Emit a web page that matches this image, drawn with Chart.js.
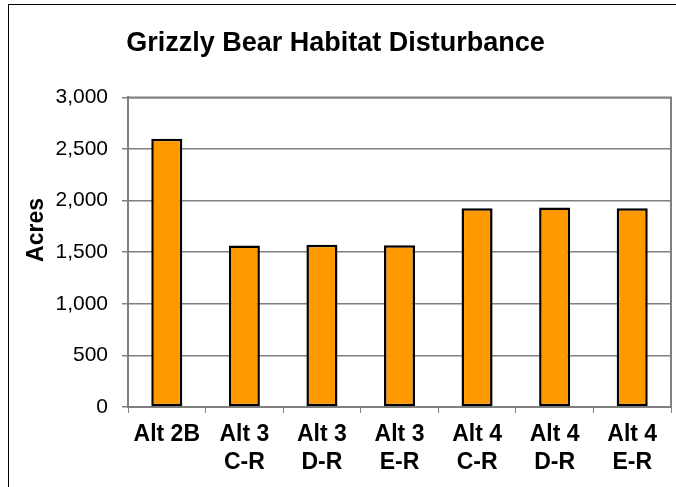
<!DOCTYPE html>
<html>
<head>
<meta charset="utf-8">
<script src="https://cdn.jsdelivr.net/npm/chart.js@4"></script>
<style>
  html, body { margin: 0; padding: 0; background: #fff; overflow: hidden; }
  #frame { position: absolute; left: 8px; top: 4px; width: 700px; height: 520px; border: 1px solid #000; box-sizing: border-box; }
  #wrap { position: absolute; left: 0; top: 0; width: 676px; height: 487px; }
</style>
</head>
<body>
<div id="frame"></div>
<div id="wrap"><canvas id="chart" width="676" height="487"></canvas></div>
<script>
// data
const categories = [['Alt 2B'], ['Alt 3', 'C-R'], ['Alt 3', 'D-R'], ['Alt 3', 'E-R'], ['Alt 4', 'C-R'], ['Alt 4', 'D-R'], ['Alt 4', 'E-R']];
const acres = [2600, 1565, 1572, 1567, 1925, 1932, 1926];
const yTicks = [0, 500, 1000, 1500, 2000, 2500, 3000];

const FONT = "'Liberation Sans', Arial, sans-serif";

// gray border on right/top of the plot area, and the rotated y title
const plotExtras = {
  id: 'plotExtras',
  afterDraw(chart) {
    const { ctx, chartArea: a } = chart;
    ctx.save();
    ctx.strokeStyle = '#808080';
    ctx.lineWidth = 2;
    ctx.beginPath();
    ctx.moveTo(a.left, a.top);
    ctx.lineTo(a.right, a.top);
    ctx.lineTo(a.right, a.bottom);
    ctx.stroke();

    ctx.translate(37, 230);
    ctx.rotate(-Math.PI / 2);
    ctx.fillStyle = '#000';
    ctx.font = 'bold 23px ' + FONT;
    ctx.textAlign = 'center';
    ctx.textBaseline = 'middle';
    ctx.fillText('Acres', 0, 0);
    ctx.restore();
  }
};

new Chart(document.getElementById('chart'), {
  type: 'bar',
  data: {
    labels: categories,
    datasets: [{
      data: acres,
      backgroundColor: '#FF9900',
      borderColor: '#000',
      borderWidth: 2.5,
      borderSkipped: false,
      barPercentage: 0.4,
      categoryPercentage: 1
    }]
  },
  options: {
    responsive: false,
    animation: false,
    layout: { padding: { left: 0, right: 5, top: 0, bottom: 0 } },
    plugins: {
      legend: { display: false },
      tooltip: { enabled: false },
      title: {
        display: true,
        text: 'Grizzly Bear Habitat Disturbance',
        color: '#000',
        font: { family: FONT, size: 27, weight: 'bold', lineHeight: 1.2 },
        padding: { top: 27, bottom: 38 }
      }
    },
    scales: {
      x: {
        afterFit: s => { s.height = 80; },
        grid: { display: true, offset: true, drawOnChartArea: false, tickLength: 6, color: '#808080', tickColor: '#808080' },
        border: { display: true, color: '#808080', width: 2 },
        ticks: {
          color: '#000',
          padding: 8,
          maxRotation: 0,
          autoSkip: false,
          font: { family: FONT, size: 23, weight: 'bold', lineHeight: 1.22 }
        }
      },
      y: {
        min: 0,
        max: 3000,
        afterFit: s => { s.width = 128; },
        afterBuildTicks: s => { s.ticks = yTicks.map(v => ({ value: v })); },
        grid: { color: '#808080', tickColor: '#808080', tickLength: 6, lineWidth: 1.5 },
        border: { display: true, color: '#808080', width: 2 },
        ticks: {
          color: '#000',
          padding: 14,
          font: { family: FONT, size: 21 },
          callback: v => v.toLocaleString('en-US')
        }
      }
    }
  },
  plugins: [plotExtras]
});
</script>
</body>
</html>
